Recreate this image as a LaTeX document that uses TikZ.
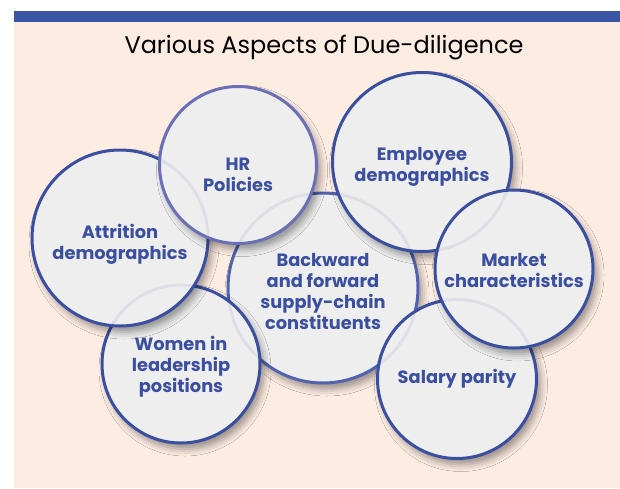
\documentclass[tikz,border=0pt]{standalone}
\usepackage{fontspec}
\setmainfont{Poppins}
\usetikzlibrary{shadows.blur, calc}
\definecolor{peach}{HTML}{FDECE2}
\definecolor{barblue}{HTML}{3A55A4}
\definecolor{ringblue}{HTML}{3A4FA0}
\definecolor{ringlight}{HTML}{6B70B6}
\definecolor{ringmid}{HTML}{5063AE}
\definecolor{bubblegray}{HTML}{EFEEEE}
\tikzset{
  bubble/.style={circle, draw=ringblue, line width=3pt, fill=bubblegray, inner sep=0pt,
    blur shadow={shadow xshift=4pt, shadow yshift=-6pt, shadow opacity=40, shadow blur radius=7pt}},
  bubbletext/.style={text=ringblue, align=center, inner sep=0pt,
    font=\bfseries\fontsize{17.8}{21}\selectfont},
  ghostring/.style={draw=ringblue, line width=3pt, opacity=0.09},
}
\begin{document}
\begin{tikzpicture}[x=1pt, y=-1pt]
            \useasboundingbox (0, 0) rectangle (620, 488);
            \fill [peach] (14, 11) rectangle (620, 488);
            \fill [barblue] (14, 11) rectangle (620, 22);

            \node [font=\fontsize{24}{28}\selectfont] (title) at (324, 48) {Various Aspects of Due-diligence};

            \node [bubble, draw=ringmid, minimum size=190pt] (chain) at (323, 288) {};
            \node [bubble, minimum size=158pt] (women) at (181, 364) {};
            \node [bubble, minimum size=176pt] (attrition) at (120, 238) {};
            \node [bubble, draw=ringlight, minimum size=157pt] (hr) at (238, 165) {};
            \node [bubble, minimum size=179pt] (employee) at (422, 162) {};
            \node [bubble, minimum size=159pt] (salary) at (457, 379) {};
            \node [bubble, minimum size=158pt] (market) at (514, 269) {};

            % faint rings of the lower bubbles seen through the upper ones
            \foreach \low/\up in {chain/women, chain/hr, chain/employee, chain/salary,
                                  women/attrition, attrition/hr, employee/market, salary/market} {
              \begin{scope}
                \clip let \p1 = ($(\up.east)-(\up.center)$) in (\up.center) circle [radius=\x1-3pt];
                \draw [ghostring] let \p2 = ($(\low.east)-(\low.center)$) in (\low.center) circle [radius=\x2-1.5pt];
              \end{scope}
            }

            \node [bubbletext] (chain-text) at (323, 291) {Backward\\and forward\\supply-chain\\constituents};
            \node [bubbletext] (women-text) at (181, 367) {Women in\\leadership\\positions};
            \node [bubbletext] (attrition-text) at (120, 244) {Attrition\\demographics};
            \node [bubbletext] (hr-text) at (238, 175) {HR\\Policies};
            \node [bubbletext] (employee-text) at (422, 167) {Employee\\demographics};
            \node [bubbletext] (salary-text) at (457, 379) {Salary parity};
            \node [bubbletext] (market-text) at (514, 270) {Market\\characteristics};
        \end{tikzpicture}
\end{document}
